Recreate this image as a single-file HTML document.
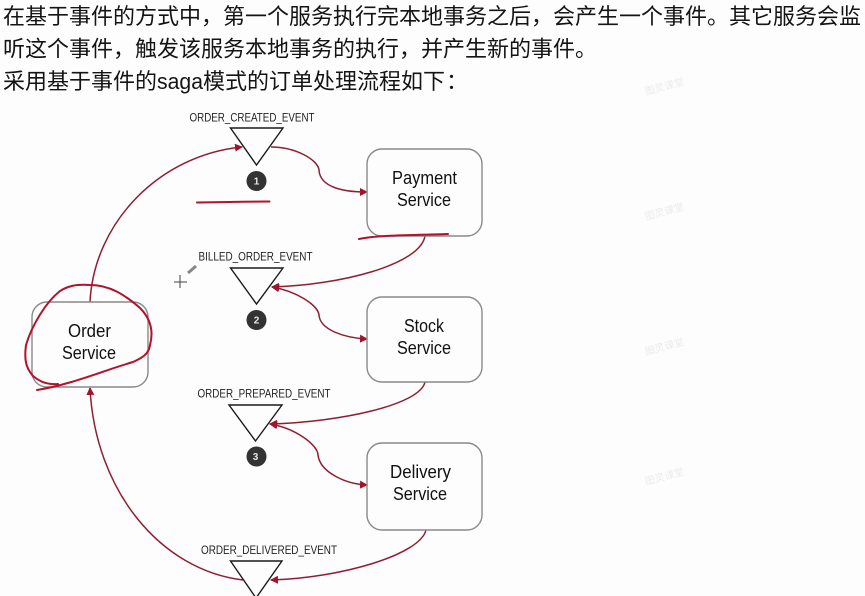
<!DOCTYPE html>
<html lang="zh">
<head>
<meta charset="utf-8">
<style>
html,body{margin:0;padding:0;background:#fdfdfd;}
body{width:865px;height:596px;overflow:hidden;position:relative;}
svg{position:absolute;left:0;top:0;}
.h{font-family:"Liberation Sans","Noto Sans CJK SC",sans-serif;font-size:22px;fill:#141414;}
.b{font-family:"Liberation Sans",sans-serif;font-size:18px;fill:#111;}
.l{font-family:"Liberation Sans",sans-serif;font-size:12px;fill:#222;}
.n{font-family:"Liberation Sans",sans-serif;font-size:10px;font-weight:bold;fill:#e8e8e8;text-anchor:middle;}
.w{font-family:"Liberation Sans","Noto Sans CJK SC",sans-serif;font-size:10px;fill:#ececec;}
.c{fill:none;stroke:#8e1f33;stroke-width:1.5;}
.r{fill:none;stroke:#b0132b;stroke-width:2;stroke-linecap:round;stroke-linejoin:round;}
.box{fill:none;stroke:#8a8a8a;stroke-width:1.4;}
.t{fill:none;stroke:#1a1a1a;stroke-width:1.4;}
</style>
</head>
<body>
<svg width="865" height="596" viewBox="0 0 865 596" xmlns="http://www.w3.org/2000/svg">
<defs>
<marker id="a" markerWidth="9" markerHeight="8" refX="7" refY="4" orient="auto" markerUnits="userSpaceOnUse"><path d="M0,0 L8,4 L0,8 Z" fill="#a0152c"/></marker>
<marker id="s" markerWidth="9" markerHeight="8" refX="1" refY="4" orient="auto" markerUnits="userSpaceOnUse"><path d="M8,0 L0,4 L8,8 Z" fill="#a0152c"/></marker>
</defs>

<text class="h" x="3" y="24">在基于事件的方式中，第一个服务执行完本地事务之后，会产生一个事件。其它服务会监</text>
<text class="h" x="3" y="56.5">听这个事件，触发该服务本地事务的执行，并产生新的事件。</text>
<text class="h" x="3" y="89">采用基于事件的<tspan textLength="46" lengthAdjust="spacingAndGlyphs">saga</tspan>模式的订单处理流程如下<tspan dx="1">：</tspan></text>

<g class="w">
<text x="646" y="95" transform="rotate(-15 646 95)">图灵课堂</text>
<text x="646" y="220" transform="rotate(-15 646 220)">图灵课堂</text>
<text x="646" y="355" transform="rotate(-15 646 355)">图灵课堂</text>
<text x="646" y="485" transform="rotate(-15 646 485)">图灵课堂</text>
</g>

<!-- connectors -->
<path class="c" d="M90,302 C94,222 160,155 242,147" marker-end="url(#a)"/>
<path class="c" d="M271,147 C296,147 318,160 319,170 C320,188 345,192 367,192" marker-end="url(#a)"/>
<path class="c" d="M425,236 C420,265 340,285 272,287" marker-end="url(#a)"/>
<path class="c" d="M272,287 C296,291 318,305 319,315 C320,330 345,338 367,339" marker-end="url(#a)" marker-start="url(#s)"/>
<path class="c" d="M425,382 C420,405 340,422 270,424" marker-end="url(#a)"/>
<path class="c" d="M270,424 C295,428 318,445 318,455 C320,472 345,484 367,485" marker-end="url(#a)" marker-start="url(#s)"/>
<path class="c" d="M426,530 C420,555 340,578 271,580" marker-end="url(#a)"/>
<path class="c" d="M243,580 C160,570 95,490 90,388" marker-end="url(#a)"/>

<!-- service boxes -->
<rect class="box" x="367" y="149" width="115" height="87" rx="15"/>
<rect class="box" x="367" y="297" width="115" height="85" rx="15"/>
<rect class="box" x="367" y="443" width="115" height="87" rx="15"/>
<rect class="box" x="32" y="302" width="116" height="85" rx="15"/>

<text class="b" x="392" y="184" textLength="65" lengthAdjust="spacingAndGlyphs">Payment</text>
<text class="b" x="397" y="206" textLength="54" lengthAdjust="spacingAndGlyphs">Service</text>
<text class="b" x="404" y="332" textLength="40" lengthAdjust="spacingAndGlyphs">Stock</text>
<text class="b" x="397" y="354" textLength="54" lengthAdjust="spacingAndGlyphs">Service</text>
<text class="b" x="390" y="478" textLength="61" lengthAdjust="spacingAndGlyphs">Delivery</text>
<text class="b" x="393" y="500" textLength="54" lengthAdjust="spacingAndGlyphs">Service</text>
<text class="b" x="68" y="337" textLength="43" lengthAdjust="spacingAndGlyphs">Order</text>
<text class="b" x="62" y="359" textLength="54" lengthAdjust="spacingAndGlyphs">Service</text>

<!-- event triangles -->
<polygon class="t" points="230.5,128 283,128 256.5,165"/>
<polygon class="t" points="230.5,268 283,268 256.5,304"/>
<polygon class="t" points="229,405 282,405 255.5,441"/>
<polygon class="t" points="230.5,561 282,561 256,598"/>

<text class="l" x="189.5" y="121.5" textLength="125" lengthAdjust="spacingAndGlyphs">ORDER_CREATED_EVENT</text>
<text class="l" x="198.5" y="260.5" textLength="114" lengthAdjust="spacingAndGlyphs">BILLED_ORDER_EVENT</text>
<text class="l" x="197.5" y="397.5" textLength="133" lengthAdjust="spacingAndGlyphs">ORDER_PREPARED_EVENT</text>
<text class="l" x="201" y="554" textLength="136" lengthAdjust="spacingAndGlyphs">ORDER_DELIVERED_EVENT</text>

<circle cx="256.5" cy="181" r="10" fill="#333"/>
<circle cx="256.5" cy="320" r="10" fill="#333"/>
<circle cx="256.5" cy="456.5" r="10" fill="#333"/>
<text class="n" x="256.5" y="184.5">1</text>
<text class="n" x="256.5" y="323.5">2</text>
<text class="n" x="255.5" y="460">3</text>

<!-- hand annotations -->
<path class="r" d="M197,202.5 C220,202 245,201.5 269.5,201.5"/>
<path class="r" d="M359,239 C375,235 420,235 448,234"/>
<path class="r" d="M37,390 C70,385 105,370 133,362 C142,358 149,354 150,345 C154,330 150,318 140,308 C125,295 110,285 90,285 C76,284 68,286 60,291 C46,302 32,325 26,345 C24,360 26,368 33,376 C40,382 48,385 58,384"/>

<!-- cursor -->
<path d="M180,275 V288 M174,282 H187" stroke="#444" stroke-width="1" fill="none"/>
<path d="M188,273 L196,266" stroke="#888" stroke-width="3" fill="none"/>
</svg>
</body>
</html>
